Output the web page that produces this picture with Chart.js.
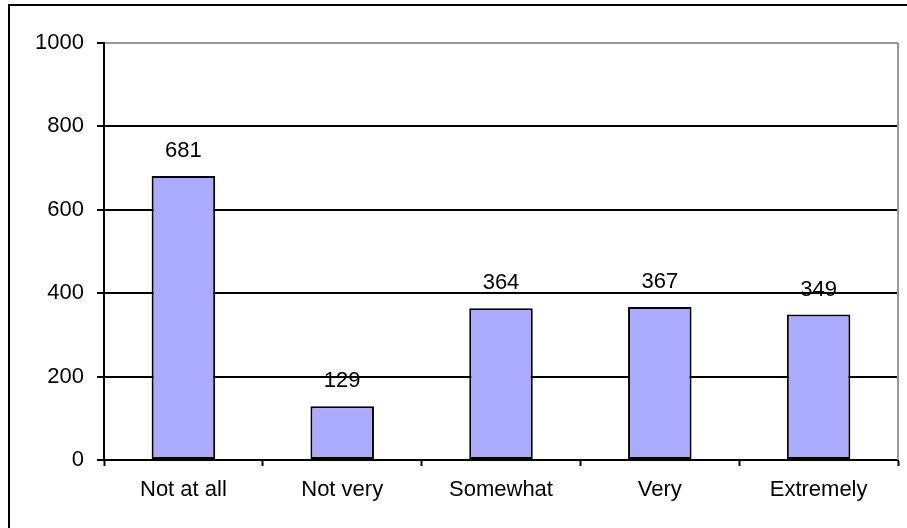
<!DOCTYPE html>
<html>
<head>
<meta charset="utf-8">
<script src="https://cdn.jsdelivr.net/npm/chart.js@4/dist/chart.umd.min.js"></script>
<style>
  html, body { margin: 0; padding: 0; background: #fff; }
  #chart { display: block; }
</style>
</head>
<body>
<canvas id="chart" width="907" height="528"></canvas>
<script>
const CATEGORIES = ['Not at all', 'Not very', 'Somewhat', 'Very', 'Extremely'];
const COUNTS = [681, 129, 364, 367, 349];
const Y_MIN = 0;
const Y_MAX = 1000;
const Y_STEP = 200;

const FONT = { family: '"Liberation Sans", Arial, sans-serif', size: 22 };

// frame round the whole sheet, grey plot border, value labels above bars
const decorations = {
  id: 'decorations',
  beforeDraw(chart) {
    const ctx = chart.ctx;
    ctx.save();
    ctx.strokeStyle = '#000';
    ctx.lineWidth = 2;
    ctx.strokeRect(9, 5, 1200, 1200);
    ctx.restore();
  },
  afterDraw(chart) {
    const { ctx, chartArea } = chart;
    ctx.save();
    ctx.strokeStyle = '#999';
    ctx.lineWidth = 2;
    ctx.beginPath();
    ctx.moveTo(chartArea.right, chartArea.top);
    ctx.lineTo(chartArea.right, chartArea.bottom);
    ctx.stroke();

    ctx.fillStyle = '#000';
    ctx.font = `${FONT.size}px ${FONT.family}`;
    ctx.textAlign = 'center';
    ctx.textBaseline = 'middle';
    const meta = chart.getDatasetMeta(0);
    meta.data.forEach((bar, i) => {
      ctx.fillText(String(COUNTS[i]), bar.x, bar.y - 25);
    });
    ctx.restore();
  }
};

new Chart(document.getElementById('chart'), {
  type: 'bar',
  data: {
    labels: CATEGORIES,
    datasets: [{
      data: COUNTS,
      backgroundColor: '#aaaaff',
      borderColor: '#000',
      borderWidth: 2,
      borderSkipped: false,
      categoryPercentage: 1,
      barPercentage: 0.4
    }]
  },
  options: {
    responsive: false,
    animation: false,
    devicePixelRatio: 1,
    layout: { padding: { top: 43, right: 9, left: 0, bottom: 0 } },
    plugins: { legend: { display: false }, tooltip: { enabled: false } },
    scales: {
      x: {
        afterFit: (scale) => { scale.height = 68; },
        grid: { drawOnChartArea: false, drawTicks: true, tickLength: 6, tickColor: '#000', tickWidth: 2 },
        border: { color: '#000', width: 2 },
        ticks: { color: '#000', font: FONT, padding: 11, maxRotation: 0 }
      },
      y: {
        min: Y_MIN,
        max: Y_MAX,
        afterFit: (scale) => { scale.width = 104; },
        grid: {
          color: (c) => (c.tick && c.tick.value === Y_MAX ? '#999' : '#000'),
          lineWidth: 2,
          tickLength: 7,
          tickColor: '#000',
          tickWidth: 2
        },
        border: { color: '#000', width: 2 },
        ticks: {
          stepSize: Y_STEP,
          color: '#000',
          font: FONT,
          padding: 13,
          callback: (v) => String(v)
        }
      }
    }
  },
  plugins: [decorations]
});
</script>
</body>
</html>
